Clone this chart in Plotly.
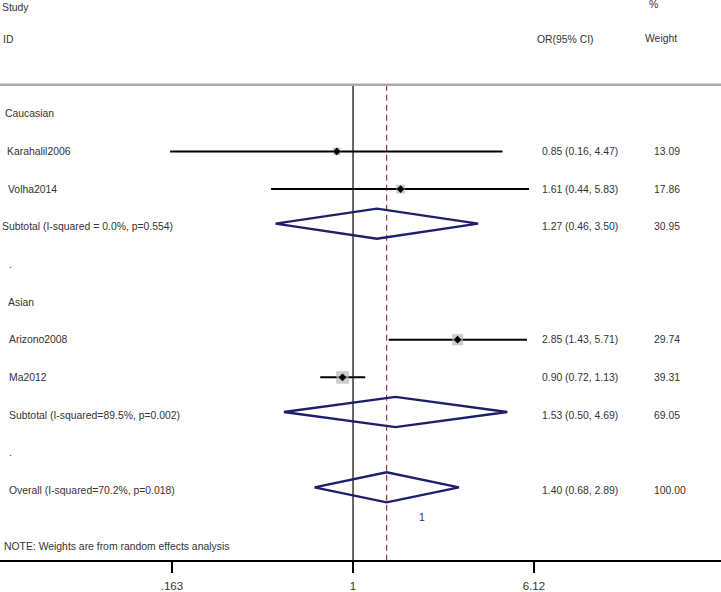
import plotly.graph_objects as go

# ---------------- data ----------------
row_labels = ["Caucasian", "Karahalil2006", "Volha2014",
              "Subtotal (I-squared = 0.0%, p=0.554)", ".", "Asian",
              "Arizono2008", "Ma2012", "Subtotal (I-squared=89.5%, p=0.002)",
              ".", "Overall (I-squared=70.2%, p=0.018)"]
row_indent_px = [3, 5, 6, 0, 7, 6, 7, 7, 7, 7, 7]

study_rows = [1, 2, 6, 7]
study_or = [0.85, 1.61, 2.85, 0.90]
study_lo = [0.16, 0.44, 1.43, 0.72]
study_hi = [4.47, 5.83, 5.71, 1.13]
study_w = [13.09, 17.86, 29.74, 39.31]

pool_rows = [3, 8, 10]
pool_or = [1.27, 1.53, 1.40]
pool_lo = [0.46, 0.50, 0.68]
pool_hi = [3.50, 4.69, 2.89]
pool_w = [30.95, 69.05, 100.00]

overall_or = 1.40
tick_vals = [0.163, 1, 6.12]
tick_text = [".163", "1", "6.12"]

# ---------------- layout helpers ----------------
W, H = 721, 592
FONT = "Liberation Sans, Arial, sans-serif"
FS = 10.4
TXT = "#333333"
Y_TOP, Y_BOT = -3.02, 11.85      # row units at top / bottom of plot area
HEAD_LINE = -0.77
DIAM_OFF = -0.08
DIAM_H = 0.40

def px(xp):
    return xp / W

fig = go.Figure()

# reference lines
fig.add_trace(go.Scatter(x=[1, 1], y=[HEAD_LINE, Y_BOT], mode="lines",
                         line=dict(color="black", width=1.2),
                         hoverinfo="skip", showlegend=False))
fig.add_trace(go.Scatter(x=[overall_or, overall_or], y=[HEAD_LINE, Y_BOT], mode="lines",
                         line=dict(color="#9b3450", width=1.2, dash="6px,4px"),
                         hoverinfo="skip", showlegend=False))

# CI lines
for r, lo, hi in zip(study_rows, study_lo, study_hi):
    fig.add_trace(go.Scatter(x=[lo, hi], y=[r, r], mode="lines",
                             line=dict(color="black", width=2),
                             hoverinfo="skip", showlegend=False))

# weight squares
fig.add_trace(go.Scatter(x=study_or, y=study_rows, mode="markers",
                         marker=dict(symbol="square", color="#b9b9b9",
                                     size=[1.92 * w ** 0.5 for w in study_w],
                                     line=dict(color="#a8a8a8", width=0.5)),
                         hoverinfo="skip", showlegend=False))
# point estimates
fig.add_trace(go.Scatter(x=study_or, y=study_rows, mode="markers",
                         marker=dict(symbol="diamond", color="black", size=6),
                         hoverinfo="skip", showlegend=False))

# pooled diamonds
for r, e, lo, hi in zip(pool_rows, pool_or, pool_lo, pool_hi):
    c = r + DIAM_OFF
    fig.add_trace(go.Scatter(x=[lo, e, hi, e, lo], y=[c, c - DIAM_H, c, c + DIAM_H, c],
                             mode="lines", line=dict(color="#1e1e6a", width=2.3),
                             hoverinfo="skip", showlegend=False))

ann = []
def text(x_px, y, s, xanchor="left", size=FS):
    ann.append(dict(x=px(x_px), y=y, xref="paper", yref="y", text=s,
                    showarrow=False, xanchor=xanchor, yanchor="middle",
                    font=dict(family=FONT, size=size, color=TXT)))

# headers
text(0, -2.83, "Study")
text(1, -1.96, "ID")
text(565, -1.96, "OR(95% CI)", xanchor="center")
text(653, -2.89, "%", xanchor="center")
text(661, -2.01, "Weight", xanchor="center")

# row labels
for i, (s, ind) in enumerate(zip(row_labels, row_indent_px)):
    text(ind, i, s)

# right columns
for r, e, lo, hi, w in list(zip(study_rows, study_or, study_lo, study_hi, study_w)) + \
        list(zip(pool_rows, pool_or, pool_lo, pool_hi, pool_w)):
    text(540, r, f"{e:.2f} ({lo:.2f}, {hi:.2f})")
    text(652, r, f"{w:.2f}")

text(422, 10.71, "1", xanchor="center")
text(2, 11.48, "NOTE: Weights are from random effects analysis")

fig.update_layout(
    width=W, height=H, margin=dict(l=0, r=0, t=0, b=30),
    paper_bgcolor="white", plot_bgcolor="white",
    annotations=ann,
    shapes=[dict(type="line", xref="paper", yref="y", x0=0, x1=1,
                 y0=HEAD_LINE, y1=HEAD_LINE, line=dict(color="#a9a9b1", width=2.5))],
    xaxis=dict(type="log", range=[-1.536, 1.601], showgrid=False, zeroline=False,
               showline=True, linecolor="black", linewidth=2,
               ticks="outside", ticklen=11, tickwidth=1.5, tickcolor="black",
               tickvals=tick_vals, ticktext=tick_text, ticklabelstandoff=3,
               tickfont=dict(family=FONT, size=11.5, color=TXT)),
    yaxis=dict(range=[Y_BOT, Y_TOP], showgrid=False, zeroline=False,
               showline=False, showticklabels=False, ticks=""),
    showlegend=False,
)

fig.write_html("out.html", config={"displayModeBar": False},
               post_script="document.body.style.margin='0';document.body.style.padding='0';")
